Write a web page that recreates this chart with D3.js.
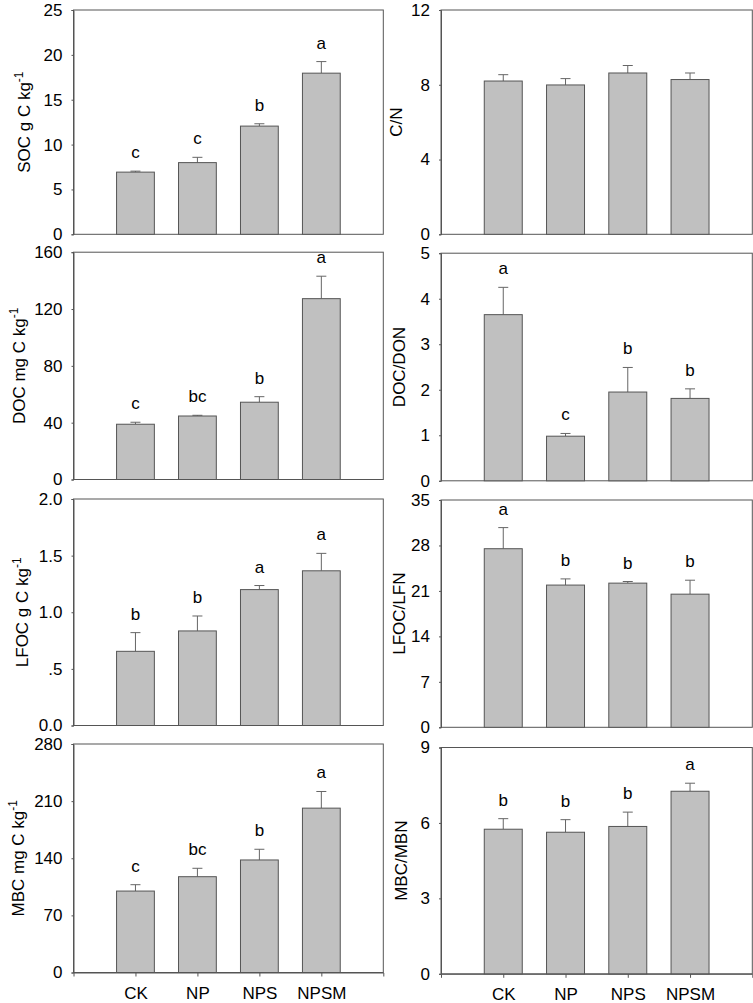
<!DOCTYPE html>
<html><head><meta charset="utf-8">
<script src="https://cdn.jsdelivr.net/npm/d3@7"></script>
<style>
body{margin:0;background:#fff;}
svg{display:block;font-family:"Liberation Sans",Arial,sans-serif;}
</style></head>
<body>
<svg id="chart" width="753" height="1003"></svg>
<script>
const categories = ["CK","NP","NPS","NPSM"];

const socMean = [6.93, 7.99, 12.06, 17.96];
const socErr = [0.11, 0.59, 0.26, 1.29];
const socLetters = ["c","c","b","a"];
const socTicks = [0,5,10,15,20,25];

const cnMean = [8.20, 7.99, 8.63, 8.28];
const cnErr = [0.34, 0.34, 0.40, 0.35];
const cnLetters = ["","","",""];
const cnTicks = [0,4,8,12];

const docMean = [38.9, 44.7, 54.4, 127.3];
const docErr = [1.4, 0.5, 3.9, 15.8];
const docLetters = ["c","bc","b","a"];
const docTicks = [0,40,80,120,160];

const donMean = [3.65, 0.98, 1.95, 1.81];
const donErr = [0.60, 0.06, 0.54, 0.21];
const donLetters = ["a","c","b","b"];
const donTicks = [0,1,2,3,4,5];

const lfocMean = [0.655, 0.835, 1.20, 1.366];
const lfocErr = [0.165, 0.132, 0.036, 0.154];
const lfocLetters = ["b","b","a","a"];
const lfocTicks = [0,0.5,1,1.5,2];
const lfocTickLabels = ["0.0",".5","1.0","1.5","2.0"];

const lfnMean = [27.5, 21.9, 22.2, 20.5];
const lfnErr = [3.25, 0.95, 0.25, 2.15];
const lfnLetters = ["a","b","b","b"];
const lfnTicks = [0,7,14,21,28,35];

const mbcMean = [99.8, 117.4, 137.9, 201.4];
const mbcErr = [7.8, 10.3, 13.1, 20.4];
const mbcLetters = ["c","bc","b","a"];
const mbcTicks = [0,70,140,210,280];

const mbnMean = [5.75, 5.63, 5.86, 7.26];
const mbnErr = [0.42, 0.50, 0.57, 0.32];
const mbnLetters = ["b","b","b","a"];
const mbnTicks = [0,3,6,9];

// layout
const cols = [{x0:73.5, x1:383.3}, {x0:441, x1:752.3}];
const panels = [
  {col:0, top:10,  bottom:234.3, mean:socMean, err:socErr, letters:socLetters, ticks:socTicks, label:"SOC g C kg", sup:"-1", lx:30},
  {col:1, top:10,  bottom:234.3, mean:cnMean, err:cnErr, letters:cnLetters, ticks:cnTicks, label:"C/N", sup:"", lx:401.7},
  {col:0, top:252.2, bottom:479.5, mean:docMean, err:docErr, letters:docLetters, ticks:docTicks, label:"DOC mg C kg", sup:"-1", lx:25},
  {col:1, top:253.2, bottom:480.8, mean:donMean, err:donErr, letters:donLetters, ticks:donTicks, label:"DOC/DON", sup:"", lx:405},
  {col:0, top:499, bottom:725.5, mean:lfocMean, err:lfocErr, letters:lfocLetters, ticks:lfocTicks, tickLabels:lfocTickLabels, label:"LFOC g C kg", sup:"-1", lx:28},
  {col:1, top:500, bottom:727.3, mean:lfnMean, err:lfnErr, letters:lfnLetters, ticks:lfnTicks, label:"LFOC/LFN", sup:"", lx:405},
  {col:0, top:744, bottom:972.5, mean:mbcMean, err:mbcErr, letters:mbcLetters, ticks:mbcTicks, label:"MBC mg C kg", sup:"-1", lx:23.5, xlab:true},
  {col:1, top:747.5, bottom:973.8, mean:mbnMean, err:mbnErr, letters:mbnLetters, ticks:mbnTicks, label:"MBC/MBN", sup:"", lx:406.5, xlab:true}
];

const svg = d3.select("#chart");
const FS = 17;
const frameColor = "#555";

panels.forEach(p => {
  const c = cols[p.col];
  const x = d3.scalePoint().domain(categories).range([c.x0, c.x1]).padding(1);
  const y = d3.scaleLinear().domain([p.ticks[0], p.ticks[p.ticks.length-1]]).range([p.bottom, p.top]);
  const bw = x.step() * 0.61;
  const g = svg.append("g");

  // frame
  g.append("rect").attr("x", c.x0).attr("y", p.top)
    .attr("width", c.x1 - c.x0).attr("height", p.bottom - p.top)
    .attr("fill", "none").attr("stroke", frameColor).attr("stroke-width", 1);

  // y axis
  const yAxis = d3.axisLeft(y).tickValues(p.ticks).tickSize(2).tickPadding(9)
    .tickFormat((d,i) => p.tickLabels ? p.tickLabels[i] : d3.format("d")(d));
  const ya = g.append("g").attr("transform", `translate(${c.x0},0)`).call(yAxis);
  ya.select(".domain").attr("stroke", frameColor);
  ya.selectAll(".tick line").attr("stroke", frameColor);
  ya.selectAll("text").attr("font-size", FS).attr("fill", "#000")
    .attr("font-family", '"Liberation Sans",Arial,sans-serif');

  // x axis (ticks only on bottom row)
  if (p.xlab) {
    const xAxis = d3.axisBottom(x).tickSize(4).tickPadding(10);
    const xa = g.append("g").attr("transform", `translate(0,${p.bottom})`).call(xAxis);
    xa.select(".domain").attr("stroke", frameColor);
    xa.selectAll(".tick line").attr("stroke", frameColor);
    xa.selectAll("text").attr("font-size", FS).attr("fill", "#000")
      .attr("font-family", '"Liberation Sans",Arial,sans-serif');
  }

  // error bars
  categories.forEach((cat, i) => {
    const cx = x(cat);
    const yTop = y(p.mean[i]);
    const yErr = y(p.mean[i] + p.err[i]);
    g.append("line").attr("x1", cx).attr("x2", cx).attr("y1", yTop).attr("y2", yErr)
      .attr("stroke", "#666").attr("stroke-width", 1);
    g.append("line").attr("x1", cx - 5).attr("x2", cx + 5).attr("y1", yErr).attr("y2", yErr)
      .attr("stroke", "#666").attr("stroke-width", 1);
  });

  // bars
  g.selectAll("rect.bar").data(categories).enter().append("rect")
    .attr("class", "bar")
    .attr("x", d => x(d) - bw/2)
    .attr("y", (d,i) => y(p.mean[i]))
    .attr("width", bw)
    .attr("height", (d,i) => y(0) - y(p.mean[i]))
    .attr("fill", "#c0c0c0")
    .attr("stroke", frameColor).attr("stroke-width", 1);

  // letters
  g.selectAll("text.letter").data(categories).enter().append("text")
    .attr("class", "letter")
    .attr("x", d => x(d))
    .attr("y", (d,i) => y(p.mean[i] + p.err[i]) - 13)
    .attr("text-anchor", "middle")
    .attr("font-size", FS)
    .text((d,i) => p.letters[i]);

  // y label
  const cy = (p.top + p.bottom) / 2;
  const t = g.append("text")
    .attr("transform", `translate(${p.lx},${cy}) rotate(-90)`)
    .attr("text-anchor", "middle")
    .attr("font-size", FS);
  t.append("tspan").text(p.label);
  if (p.sup) {
    t.append("tspan").attr("font-size", 12).attr("dy", -7).text(p.sup);
  }
});
</script>
</body></html>
